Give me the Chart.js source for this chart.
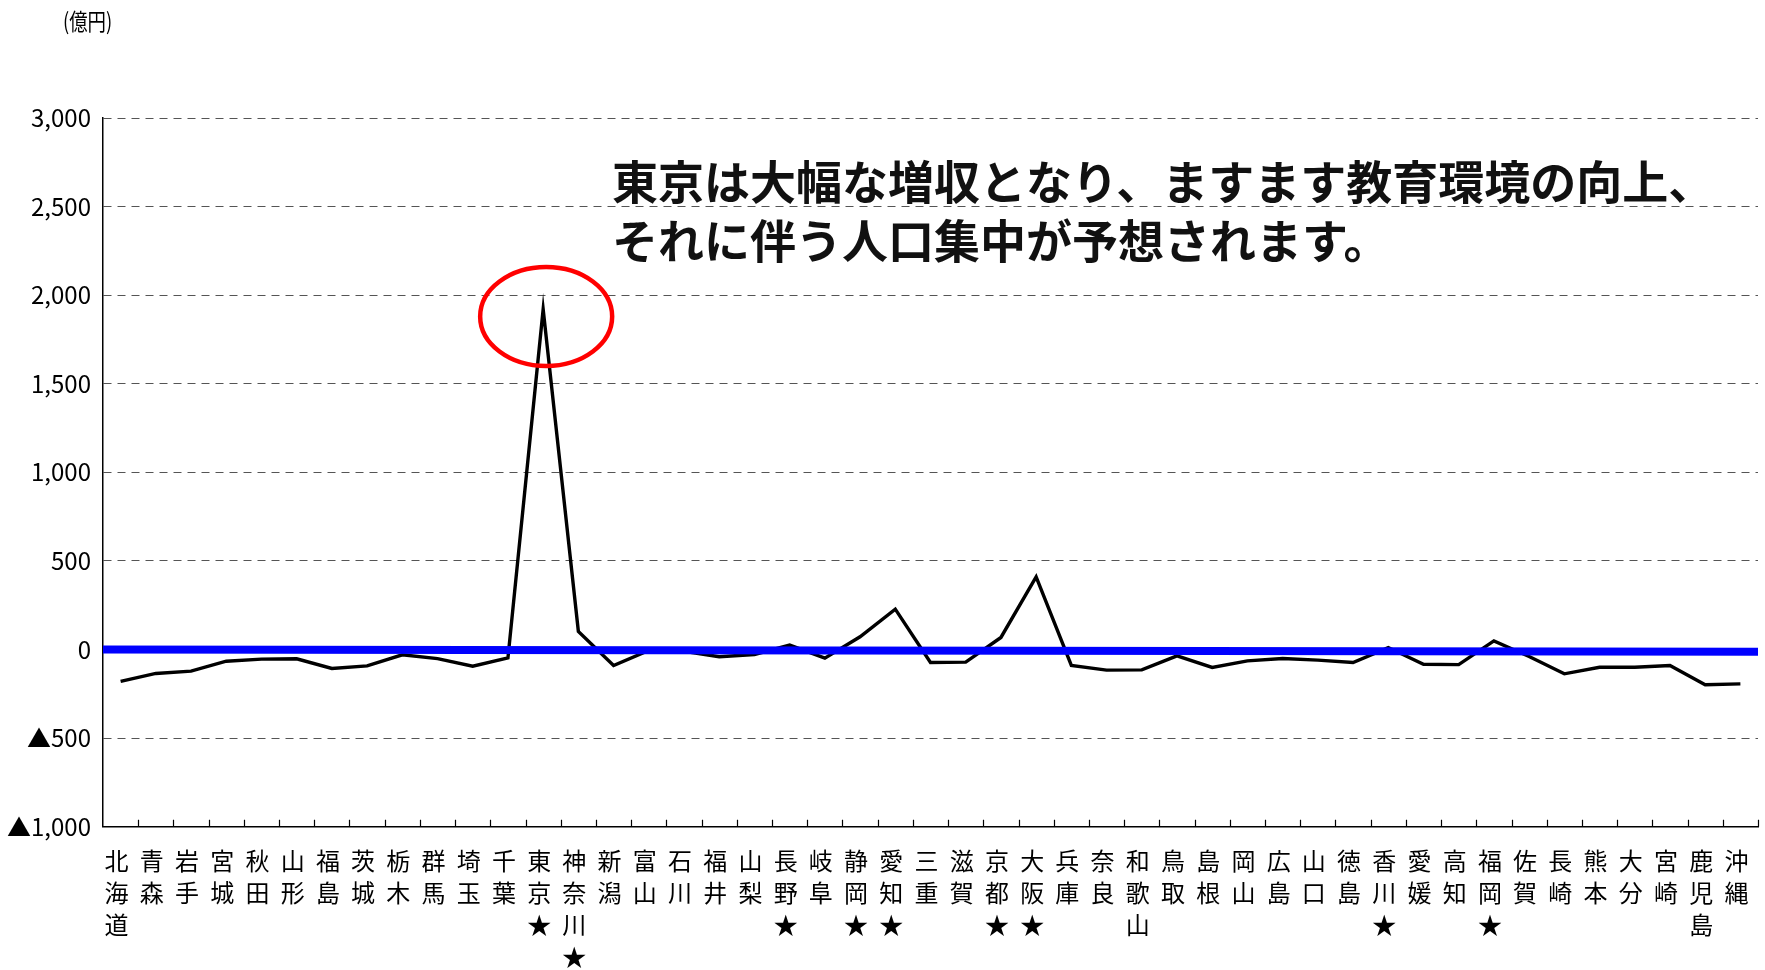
<!DOCTYPE html>
<html lang="ja">
<head>
<meta charset="utf-8">
<title>都道府県別 増減収額</title>
<script src="https://cdn.jsdelivr.net/npm/chart.js@4.4.1/dist/chart.umd.min.js"></script>
<style>
  html, body { margin: 0; padding: 0; background: #fff; }
  #wrap { position: relative; width: 1765px; height: 970px; }
</style>
</head>
<body>
<div id="wrap"><canvas id="chart"></canvas></div>
<script>
// 都道府県（横軸）
const prefectures = ['北海道','青森','岩手','宮城','秋田','山形','福島','茨城','栃木','群馬',
  '埼玉','千葉','東京','神奈川','新潟','富山','石川','福井','山梨','長野',
  '岐阜','静岡','愛知','三重','滋賀','京都','大阪','兵庫','奈良','和歌山',
  '鳥取','島根','岡山','広島','山口','徳島','香川','愛媛','高知','福岡',
  '佐賀','長崎','熊本','大分','宮崎','鹿児島','沖縄'];
// ★印の付く都道府県
const starred = ['東京','神奈川','長野','静岡','愛知','京都','大阪','香川','福岡'];
// 増減収額（億円）
const changeValues = [-180,-135,-122,-66,-54,-52,-107,-92,-30,-51,
  -94,-47,1920,102,-90,-5,-10,-41,-28,25,
  -49,72,228,-73,-71,68,410,-90,-116,-115,
  -36,-101,-64,-51,-60,-73,11,-83,-85,49,
  -39,-137,-100,-100,-90,-199,-194];
// 青い基準線（左端・右端）
const baseLineX = [0, 1];
const baseLineY = [0, -12];
// 縦軸
const yMin = -1000, yMax = 3000, yStep = 500;

const unitLabel = '(億円)';
const noteLines = ['東京は大幅な増収となり、ますます教育環境の向上、', 'それに伴う人口集中が予想されます。'];
const highlightPref = '東京';
const highlightValue = 1880;

const labels = prefectures.map(p => {
  let chars = p.split('');
  if (starred.includes(p)) chars.push('★');
  return chars;
});

function fmtTick(v) {
  let s = Math.abs(v).toLocaleString('en-US');
  return v < 0 ? '▲' + s : s;
}

const overlay = {
  id: 'overlay',
  afterDatasetsDraw(chart) {
    const {ctx, scales: {x, y}} = chart;
    // 東京を囲む赤丸
    let i = prefectures.indexOf(highlightPref);
    ctx.save();
    ctx.strokeStyle = '#ff0000';
    ctx.lineWidth = 4.5;
    ctx.beginPath();
    ctx.ellipse(x.getPixelForValue(i) + 3, y.getPixelForValue(highlightValue), 66, 49.5, 0, 0, Math.PI * 2);
    ctx.stroke();
    ctx.restore();
  },
  afterDraw(chart) {
    const {ctx, scales: {x, y}} = chart;
    ctx.save();
    // 内向きの目盛り
    let step = x.getPixelForValue(1) - x.getPixelForValue(0);
    ctx.strokeStyle = '#000';
    ctx.lineWidth = 1.2;
    ctx.beginPath();
    for (let i = 0; i < prefectures.length; i++) {
      let px = Math.round(x.getPixelForValue(i) + step / 2) + 0.5;
      ctx.moveTo(px, y.bottom);
      ctx.lineTo(px, y.bottom - 7);
    }
    ctx.stroke();

    // 単位
    ctx.fillStyle = '#000';
    ctx.textBaseline = 'middle';
    ctx.save();
    ctx.translate(63, 21);
    ctx.scale(0.8, 1);
    ctx.font = '23px "Noto Sans CJK JP"';
    ctx.fillText(unitLabel, 0, 0);
    ctx.restore();

    // コメント
    ctx.fillStyle = '#111';
    ctx.font = 'bold 46px "Noto Sans CJK JP"';
    ctx.fillText(noteLines[0], 612, 182);
    ctx.fillText(noteLines[1], 612, 241);
    ctx.restore();
  }
};

const ctx = document.getElementById('chart').getContext('2d');
new Chart(ctx, {
  type: 'line',
  data: {
    labels: labels,
    datasets: [{
      label: 'base',
      xAxisID: 'xb',
      data: baseLineX.map((v, i) => ({x: v, y: baseLineY[i]})),
      borderColor: '#0000ff',
      borderWidth: 8,
      borderCapStyle: 'square',
      pointRadius: 0,
      order: 0
    }, {
      label: '増減収額',
      xAxisID: 'x',
      data: changeValues,
      borderColor: '#000',
      borderWidth: 3.4,
      borderJoinStyle: 'miter',
      pointRadius: 0,
      tension: 0,
      order: 1
    }]
  },
  options: {
    responsive: true,
    maintainAspectRatio: false,
    animation: false,
    layout: { padding: { left: 0, right: 7, top: 118, bottom: 0 } },
    plugins: { legend: { display: false }, tooltip: { enabled: false } },
    scales: {
      x: {
        type: 'category',
        offset: true,
        grid: { display: true, drawOnChartArea: false, drawTicks: true, tickLength: 18, tickColor: 'rgba(0,0,0,0)' },
        border: { display: true, color: '#000', width: 1.5 },
        ticks: {
          autoSkip: false, maxRotation: 0, padding: 0, labelOffset: -4,
          color: '#000',
          font: { family: '"Noto Sans CJK JP"', size: 24, lineHeight: 1.33 }
        },
        afterFit(scale) { scale.height = 143.3; }
      },
      xb: {
        type: 'linear',
        display: false,
        min: 0,
        max: 1
      },
      y: {
        min: yMin,
        max: yMax,
        ticks: {
          stepSize: yStep,
          padding: 12,
          color: '#000',
          font: { family: '"Liberation Sans Narrow", "Noto Sans CJK JP", sans-serif', size: 24 },
          callback: v => fmtTick(v)
        },
        grid: { color: '#555', lineWidth: 1, drawTicks: false },
        border: { display: true, color: '#000', width: 1.5, dash: [8, 6] },
        afterFit(scale) { scale.width = 103; }
      }
    }
  },
  plugins: [overlay]
});
</script>
</body>
</html>
